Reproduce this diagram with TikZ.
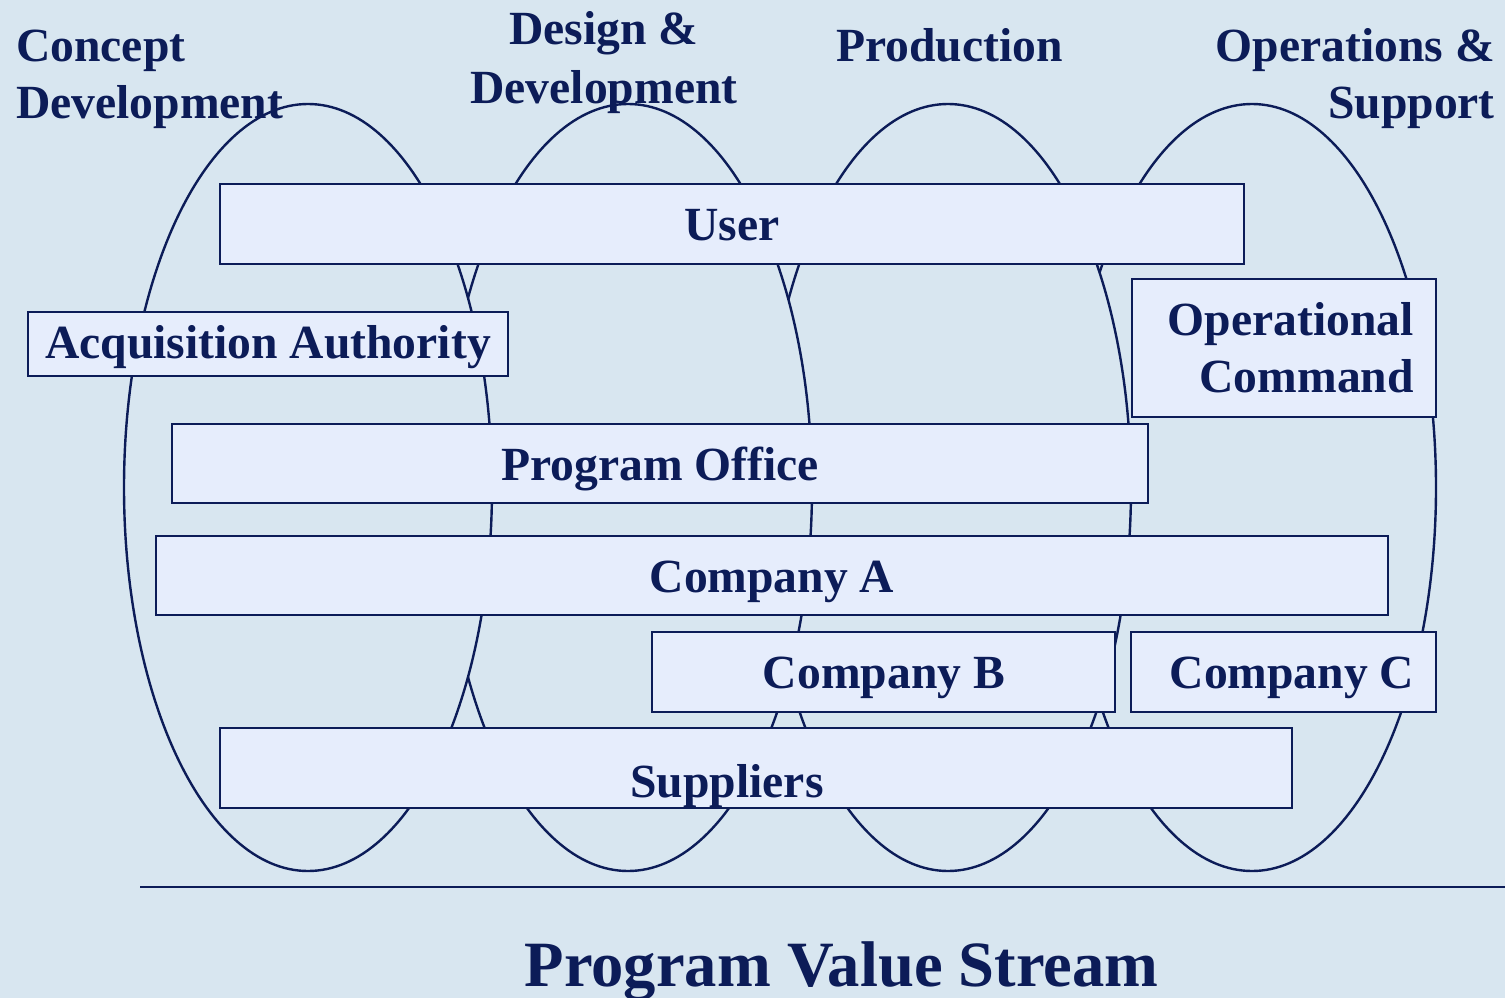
\documentclass[tikz,border=0pt]{standalone}
\usepackage{fontspec}
\setmainfont{Liberation Serif}
\definecolor{bgc}{RGB}{216,230,240}
\definecolor{boxc}{RGB}{230,237,252}
\definecolor{navy}{RGB}{12,28,88}
\tikzset{
  stroke/.style={draw=navy, line width=2.4pt},
  phase/.style={stroke, fill=bgc},
  boxnode/.style={stroke, fill=boxc, rectangle, inner sep=0pt, outer sep=0pt},
  lbl/.style={text=navy, font=\bfseries\fontsize{47.6}{56}\selectfont, inner sep=0pt, anchor=base},
  ttl/.style={text=navy, font=\bfseries\fontsize{64.6}{70}\selectfont, inner sep=0pt, anchor=base}
}
\begin{document}
\begin{tikzpicture}[x=1pt,y=-1pt]
\fill[bgc] (0,0) rectangle (1505,998);
\useasboundingbox (0,0) rectangle (1505,998);
% phase ellipses (drawn right to left, each filled, so the left one lies on top)
\draw[phase] (1252,487.5) ellipse [x radius=184, y radius=383.5];
\draw[phase] (948,487.5) ellipse [x radius=183, y radius=383.5];
\draw[phase] (628,487.5) ellipse [x radius=184, y radius=383.5];
\draw[phase] (308,487.5) ellipse [x radius=184, y radius=383.5];
% headings
\node[lbl, anchor=base west] (h1a) at (16,62) {Concept};
\node[lbl, anchor=base west] (h1b) at (16,118) {Development};
\node[lbl] (h2a) at (604,45) {Design \&};
\node[lbl] (h2b) at (604,103) {Development};
\node[lbl] (h3) at (949.5,62) {Production};
\node[lbl, anchor=base east] (h4a) at (1495,62) {Operations \&};
\node[lbl, anchor=base east] (h4b) at (1495,118) {Support};
% boxes
\node[boxnode, minimum width=1024pt, minimum height=80pt] (user) at (732,224) {};
\node[boxnode, minimum width=480pt, minimum height=64pt] (acq) at (268,344) {};
\node[boxnode, minimum width=304pt, minimum height=138pt] (opc) at (1284,348) {};
\node[boxnode, minimum width=976pt, minimum height=79pt] (po) at (660,463.5) {};
\node[boxnode, minimum width=1232pt, minimum height=79pt] (ca) at (772,575.5) {};
\node[boxnode, minimum width=463pt, minimum height=80pt] (cb) at (883.5,672) {};
\node[boxnode, minimum width=305pt, minimum height=80pt] (cc) at (1283.5,672) {};
\node[boxnode, minimum width=1072pt, minimum height=80pt] (sup) at (756,768) {};
% box texts
\node[lbl] (tuser) at (732,240) {User};
\node[lbl] (tacq) at (268,358) {Acquisition Authority};
\node[lbl, anchor=base east] (topc1) at (1414,335) {Operational};
\node[lbl, anchor=base east] (topc2) at (1414,392) {Command};
\node[lbl] (tpo) at (660,480) {Program Office};
\node[lbl] (tca) at (772,592) {Company A};
\node[lbl] (tcb) at (884,688) {Company B};
\node[lbl] (tcc) at (1292,688) {Company C};
\node[lbl] (tsup) at (727,797) {Suppliers};
% value stream axis
\coordinate (axl) at (140,887);
\coordinate (axr) at (1505,887);
\draw[draw=navy, line width=2.8pt] (axl) -- (axr);
\node[ttl] (title) at (841.5,986) {Program Value Stream};
\end{tikzpicture}
\end{document}
